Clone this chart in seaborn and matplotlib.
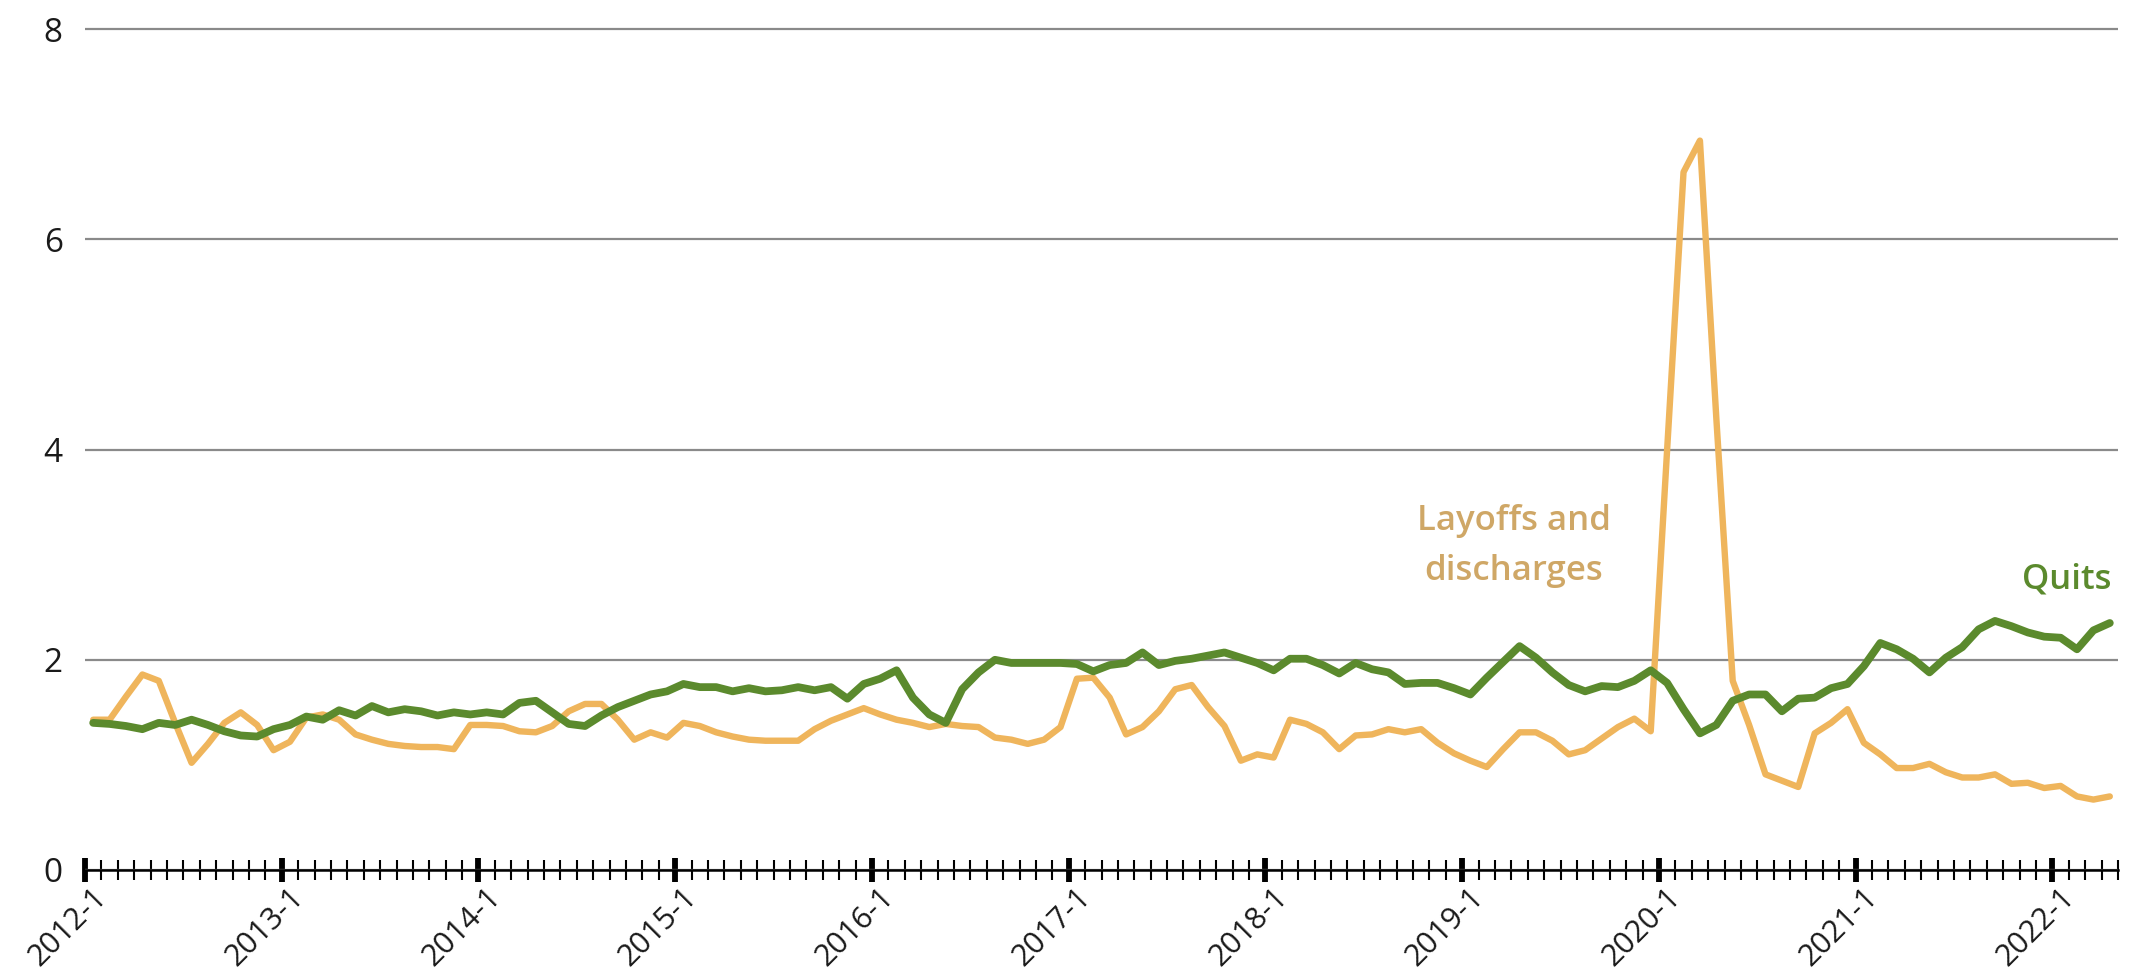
import numpy as np
import pandas as pd
import matplotlib
matplotlib.use("Agg")
import matplotlib.pyplot as plt
import seaborn as sns
from matplotlib.transforms import ScaledTranslation
from matplotlib.ticker import FixedLocator

# ---------------- data (monthly, 2012-1 .. 2022-4) ----------------
years = list(range(2012, 2023))
months = [f"{y}-{m}" for y in years for m in range(1, 13)][:124]
year_labels = [f"{y}-1" for y in years]

quits = [
    1.40, 1.39, 1.37, 1.34, 1.40, 1.38, 1.43, 1.38, 1.32, 1.28, 1.27, 1.34,   # 2012
    1.38, 1.46, 1.43, 1.52, 1.47, 1.56, 1.50, 1.53, 1.51, 1.47, 1.50, 1.48,   # 2013
    1.50, 1.48, 1.59, 1.61, 1.50, 1.39, 1.37, 1.47, 1.55, 1.61, 1.67, 1.70,   # 2014
    1.77, 1.74, 1.74, 1.70, 1.73, 1.70, 1.71, 1.74, 1.71, 1.74, 1.63, 1.77,   # 2015
    1.82, 1.90, 1.64, 1.48, 1.40, 1.72, 1.88, 2.00, 1.97, 1.97, 1.97, 1.97,   # 2016
    1.96, 1.89, 1.95, 1.97, 2.07, 1.95, 1.99, 2.01, 2.04, 2.07, 2.02, 1.97,   # 2017
    1.90, 2.01, 2.01, 1.95, 1.87, 1.97, 1.91, 1.88, 1.77, 1.78, 1.78, 1.73,   # 2018
    1.67, 1.83, 1.98, 2.13, 2.02, 1.88, 1.76, 1.70, 1.75, 1.74, 1.80, 1.90,   # 2019
    1.78, 1.53, 1.30, 1.38, 1.61, 1.67, 1.67, 1.51, 1.63, 1.64, 1.73, 1.77,   # 2020
    1.94, 2.16, 2.10, 2.01, 1.88, 2.02, 2.12, 2.29, 2.37, 2.32, 2.26, 2.22,   # 2021
    2.21, 2.10, 2.28, 2.35,                                                   # 2022
]

layoffs = [
    1.43, 1.43, 1.65, 1.86, 1.80, 1.40, 1.02, 1.20, 1.40, 1.50, 1.38, 1.14,   # 2012
    1.22, 1.45, 1.48, 1.43, 1.29, 1.24, 1.20, 1.18, 1.17, 1.17, 1.15, 1.38,   # 2013
    1.38, 1.37, 1.32, 1.31, 1.37, 1.51, 1.58, 1.58, 1.43, 1.24, 1.31, 1.26,   # 2014
    1.40, 1.37, 1.31, 1.27, 1.24, 1.23, 1.23, 1.23, 1.34, 1.42, 1.48, 1.54,   # 2015
    1.48, 1.43, 1.40, 1.36, 1.39, 1.37, 1.36, 1.26, 1.24, 1.20, 1.24, 1.36,   # 2016
    1.82, 1.83, 1.64, 1.29, 1.36, 1.51, 1.72, 1.76, 1.55, 1.37, 1.04, 1.10,   # 2017
    1.07, 1.43, 1.39, 1.31, 1.15, 1.28, 1.29, 1.34, 1.31, 1.34, 1.21, 1.11,   # 2018
    1.04, 0.98, 1.15, 1.31, 1.31, 1.23, 1.10, 1.14, 1.25, 1.36, 1.44, 1.32,   # 2019
    4.00, 6.64, 6.94, 4.30, 1.80, 1.38, 0.91, 0.85, 0.79, 1.30, 1.40, 1.53,   # 2020
    1.21, 1.10, 0.97, 0.97, 1.01, 0.93, 0.88, 0.88, 0.91, 0.82, 0.83, 0.78,   # 2021
    0.80, 0.70, 0.67, 0.70,                                                   # 2022
]

series_names = ["Layoffs and discharges", "Quits"]
series_colors = {"Layoffs and discharges": "#EFB55C", "Quits": "#5B8A2D"}
label_colors = {"Layoffs and discharges": "#CFA766", "Quits": "#5B8A2D"}
y_ticks = [0, 2, 4, 6, 8]

df = pd.DataFrame({
    "month": months,
    "idx": np.arange(len(months)),
    "Layoffs and discharges": layoffs,
    "Quits": quits,
})
long = df.melt(id_vars=["month", "idx"], value_vars=series_names,
               var_name="series", value_name="rate")

# ---------------- styling ----------------
sns.set_theme(style="white")
plt.rcParams['font.family'] = ['Open Sans', 'DejaVu Sans']

W, H = 2133, 977
fig = plt.figure(figsize=(W / 100, H / 100), dpi=100)
ymax = 8.03
px_per_unit = 105.1
ax_left, ax_right, ax_bottom = 85, 2118, 870
ax_h = ymax * px_per_unit
ax = fig.add_axes([ax_left / W, 1 - ax_bottom / H, (ax_right - ax_left) / W, ax_h / H])

widths = {"Layoffs and discharges": 4.6, "Quits": 5.6}
for name in series_names:
    sub = long[long["series"] == name]
    sns.lineplot(data=sub, x="idx", y="rate", color=series_colors[name],
                 linewidth=widths[name], ax=ax, legend=False,
                 solid_joinstyle="round", solid_capstyle="round")

ax.set_xlim(-0.5, len(months) - 0.5)
ax.set_ylim(0, ymax)

# y axis
ax.set_yticks(y_ticks)
ax.set_yticklabels([str(t) for t in y_ticks])
ax.yaxis.grid(True, color="#8a8a8a", linewidth=1.6)
ax.xaxis.grid(False)
ax.tick_params(axis="y", length=0, pad=16, labelsize=24, labelcolor="#1a1a1a")

# x axis: ticks at category boundaries
n = len(months)
major_pos = [12 * k - 0.5 for k in range(len(year_labels))]
minor_pos = [b - 0.5 for b in range(n + 1) if (b % 12 != 0)]
ax.xaxis.set_major_locator(FixedLocator(major_pos))
ax.xaxis.set_minor_locator(FixedLocator(minor_pos))
ax.set_xticklabels(year_labels)
ax.tick_params(axis="x", which="major", direction="inout", length=17, width=4.2,
               color="black", labelsize=22, labelcolor="#1a1a1a", pad=0,
               bottom=True)
ax.tick_params(axis="x", which="minor", direction="inout", length=14, width=1.5,
               color="black", bottom=True)
for lab in ax.get_xticklabels():
    lab.set_rotation(45)
    lab.set_ha("right")
    lab.set_va("top")
    lab.set_rotation_mode("anchor")
    lab.set_transform(lab.get_transform() + ScaledTranslation(0.07, 0.0, fig.dpi_scale_trans))

ax.set_xlabel("")
ax.set_ylabel("")
for s in ["top", "right", "left"]:
    ax.spines[s].set_visible(False)
ax.spines["bottom"].set_color("black")
ax.spines["bottom"].set_linewidth(1.8)
ax.spines["bottom"].set_zorder(5)

# direct labels
def px_to_data(xpx, ypx):
    x = (xpx - ax_left) / (ax_right - ax_left) * n - 0.5
    y = (ax_bottom - ypx) / px_per_unit
    return x, y

x, y = px_to_data(1514, 530)
ax.text(x, y, "Layoffs and", ha="center", va="baseline", fontsize=25,
        fontweight="semibold", color=label_colors["Layoffs and discharges"])
x, y = px_to_data(1514, 580)
ax.text(x, y, "discharges", ha="center", va="baseline", fontsize=25,
        fontweight="semibold", color=label_colors["Layoffs and discharges"])
x, y = px_to_data(2112, 588)
ax.text(x, y, "Quits", ha="right", va="baseline", fontsize=25,
        fontweight="semibold", color=label_colors["Quits"])

fig.savefig("out.png", dpi=100, facecolor="white")
